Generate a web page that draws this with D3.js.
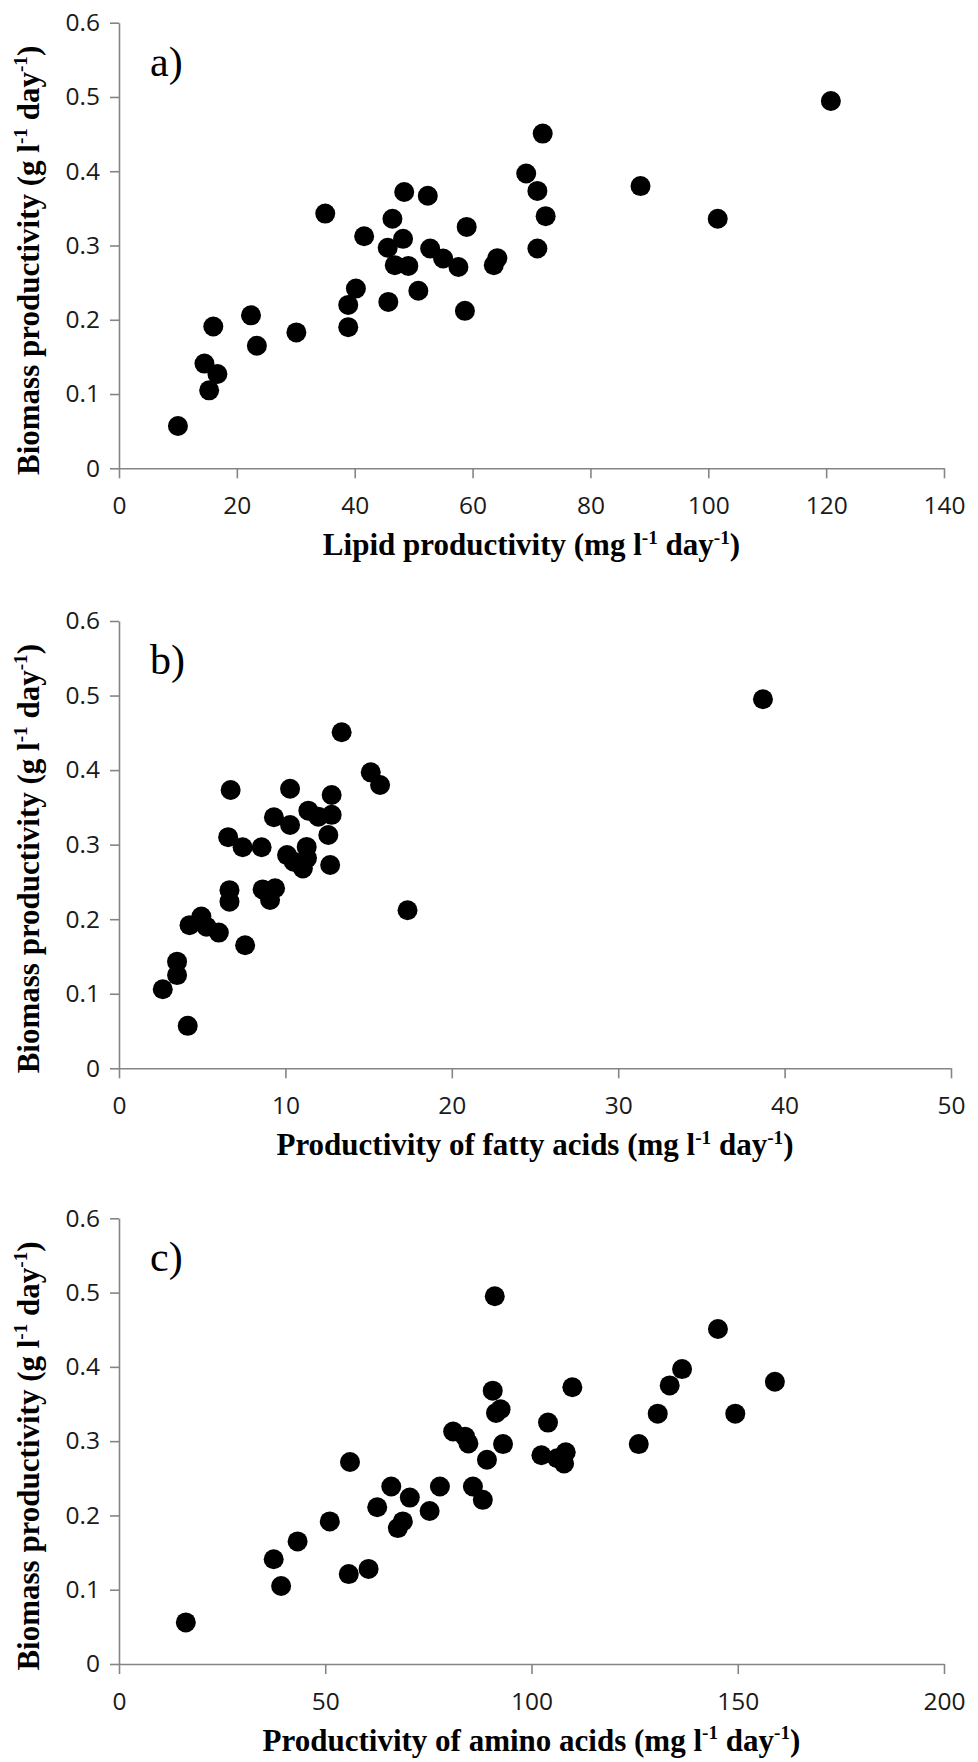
<!DOCTYPE html>
<html><head><meta charset="utf-8">
<script src="https://cdn.jsdelivr.net/npm/d3@7"></script>
<style>
body{margin:0;background:#fff}
</style>
</head><body>
<svg id="chart" width="978" height="1762"></svg>
<script>
// ---------- data ----------
const yTickValues = [0, 0.1, 0.2, 0.3, 0.4, 0.5, 0.6];

const lipidTicks = [0, 20, 40, 60, 80, 100, 120, 140];
const lipidX = [10.0, 15.3, 16.7, 14.5, 16.0, 22.4, 23.4, 30.1, 38.9, 38.9, 40.2, 45.7, 50.8, 58.7,
  35.0, 41.6, 46.4, 45.6, 48.2, 48.4, 52.4, 46.8, 49.1, 52.8, 55.0, 57.6, 59.0, 63.6, 64.2,
  69.1, 71.0, 71.9, 72.4, 71.0, 88.5, 101.6, 120.8];
const lipidY = [0.057, 0.105, 0.127, 0.141, 0.191, 0.206, 0.165, 0.183, 0.190, 0.220, 0.242, 0.224, 0.239, 0.212,
  0.343, 0.3125, 0.336, 0.297, 0.309, 0.372, 0.367, 0.2735, 0.2725, 0.296, 0.2825, 0.271, 0.325, 0.2735, 0.283,
  0.397, 0.3735, 0.4507, 0.3395, 0.296, 0.380, 0.336, 0.4945];

const fattyTicks = [0, 10, 20, 30, 40, 50];
const fattyX = [4.13, 2.63, 3.49, 3.49, 7.58, 6.0, 5.26, 4.24, 4.95, 17.34, 6.64, 9.08, 6.64, 8.63, 9.38,
  10.1, 10.5, 11.05, 11.3, 12.69, 7.43, 8.57, 11.28, 6.56, 12.58, 10.28, 9.31, 11.98, 12.78, 11.38,
  12.78, 6.71, 10.28, 15.69, 15.13, 13.38, 38.7];
const fattyY = [0.057, 0.106, 0.125, 0.143, 0.165, 0.182, 0.190, 0.192, 0.2035, 0.212, 0.2235, 0.2258, 0.239, 0.240, 0.2415,
  0.286, 0.277, 0.268, 0.282, 0.2727, 0.2965, 0.2965, 0.297, 0.310, 0.313, 0.3264, 0.3367, 0.3375, 0.340, 0.3456,
  0.3666, 0.3733, 0.375, 0.380, 0.397, 0.4507, 0.495];

const aminoTicks = [0, 50, 100, 150, 200];
const aminoX = [16.2, 39.3, 37.5, 43.3, 51.1, 55.7, 60.5, 62.6, 66.0, 70.5, 67.6, 68.8, 75.3, 77.8, 85.8, 88.2,
  56.0, 81.0, 83.9, 84.7, 89.2, 91.1, 145.2, 136.5, 133.5, 159.0, 109.9, 130.6, 149.4, 90.6, 92.5, 91.4,
  104.0, 93.1, 126.0, 102.4, 108.3, 107.9, 106.2];
const aminoY = [0.056, 0.105, 0.141, 0.165, 0.192, 0.121, 0.128, 0.211, 0.239, 0.224, 0.183, 0.192, 0.206, 0.239, 0.239, 0.221,
  0.272, 0.313, 0.306, 0.297, 0.275, 0.495, 0.451, 0.397, 0.375, 0.380, 0.3725, 0.337, 0.337, 0.368, 0.343, 0.338,
  0.325, 0.296, 0.296, 0.281, 0.285, 0.270, 0.277];

const panelLabels = ["a)", "b)", "c)"];
const xTitles = ["Lipid productivity (mg l", "Productivity of fatty acids (mg l", "Productivity of amino acids (mg l"];
const yTitle = "Biomass productivity (g l";

// ---------- layout ----------
const panels = [
  {xs: lipidX, ys: lipidY, ticks: lipidTicks, max: 140, left: 119, right: 944, top: 22.7, bottom: 468.3},
  {xs: fattyX, ys: fattyY, ticks: fattyTicks, max: 50, left: 119, right: 951, top: 621, bottom: 1068.3},
  {xs: aminoX, ys: aminoY, ticks: aminoTicks, max: 200, left: 119, right: 944, top: 1218.3, bottom: 1664}
];

const svg = d3.select("#chart");
const axisColor = "#858585";
const serif = "'Liberation Serif','Times New Roman',serif";

function addUnits(textSel, size) {
  const sup = size * 0.62;
  textSel.append("tspan").attr("dy", -size * 0.38).style("font-size", sup + "px").text("-1");
  textSel.append("tspan").attr("dy", size * 0.38).text(" day");
  textSel.append("tspan").attr("dy", -size * 0.38).style("font-size", sup + "px").text("-1");
  textSel.append("tspan").attr("dy", size * 0.38).text(")");
}

panels.forEach((p, i) => {
  const x = d3.scaleLinear().domain([0, p.max]).range([p.left, p.right]);
  const y = d3.scaleLinear().domain([0, 0.6]).range([p.bottom, p.top]);
  const g = svg.append("g");

  const xa = g.append("g").attr("transform", `translate(0,${p.bottom})`)
    .call(d3.axisBottom(x).tickValues(p.ticks).tickSize(10).tickSizeOuter(0).tickPadding(18.4).tickFormat(d3.format("d")));
  const ya = g.append("g").attr("transform", `translate(${p.left},0)`)
    .call(d3.axisLeft(y).tickValues(yTickValues).tickSize(9).tickSizeOuter(0).tickPadding(10)
      .tickFormat(d => d === 0 ? "0" : d.toFixed(1)));
  [xa, ya].forEach(a => {
    a.attr("font-family", null).attr("font-size", null);
    a.select(".domain").attr("stroke", axisColor).attr("stroke-width", 1.6);
    a.selectAll(".tick line").attr("stroke", axisColor).attr("stroke-width", 1.6);
    a.selectAll(".tick text").attr("fill", "#1a1a1a")
      .style("font-size", "24.5px").style("font-family", "'Open Sans',sans-serif");
  });

  g.append("g").selectAll("circle").data(p.xs.map((v, k) => [v, p.ys[k]])).join("circle")
    .attr("cx", d => x(d[0])).attr("cy", d => y(d[1])).attr("r", 10).attr("fill", "#000");

  g.append("text").attr("x", 150).attr("y", p.top + 53)
    .style("font-family", serif).style("font-size", "42px").attr("fill", "#000").text(panelLabels[i]);

  const xt = g.append("text").attr("x", (p.left + p.right) / 2).attr("y", p.bottom + 87)
    .attr("text-anchor", "middle").style("font-family", serif).style("font-weight", "bold")
    .style("font-size", "31px").attr("fill", "#000");
  xt.append("tspan").text(xTitles[i]);
  addUnits(xt, 31);

  const yt = g.append("text").attr("transform", `translate(39,${p.top + 23}) rotate(-90)`)
    .attr("text-anchor", "end").style("font-family", serif).style("font-weight", "bold")
    .style("font-size", "31px").attr("fill", "#000");
  yt.append("tspan").text(yTitle);
  addUnits(yt, 31);
});
</script>
</body></html>
